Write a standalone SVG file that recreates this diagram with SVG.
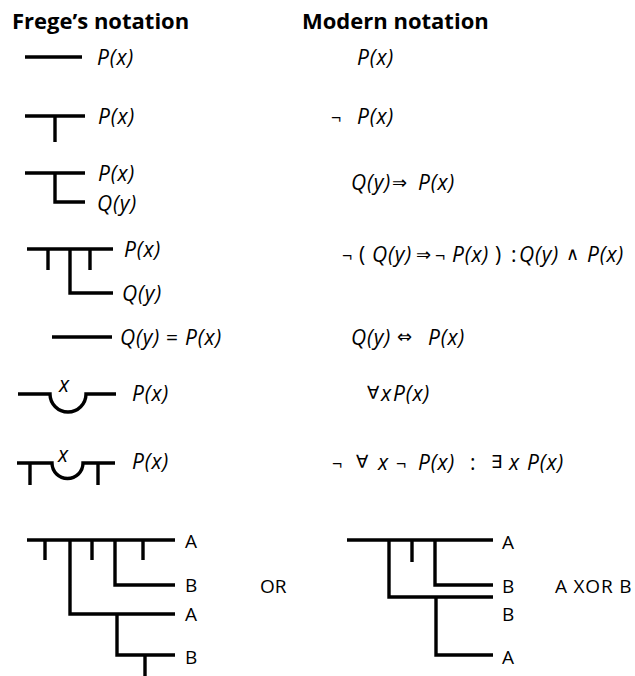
<svg xmlns="http://www.w3.org/2000/svg" width="635" height="676" viewBox="0 0 635 676">
<style>
.ln{stroke:#000;stroke-width:3.4;fill:none;stroke-linecap:butt}
.h{font-family:"Open Sans",Lato,"DejaVu Sans",sans-serif;font-weight:bold;font-size:22px;fill:#000}
.t{font-family:"Open Sans",Lato,"DejaVu Sans",sans-serif;font-size:21px;letter-spacing:0.8px;fill:#000}
.s{font-family:"Open Sans","DejaVu Sans",sans-serif;font-size:18px;fill:#000}
.l{font-family:"Open Sans",Lato,"DejaVu Sans",sans-serif;font-size:19px;fill:#000}
.i{font-style:italic}
</style>
<rect width="635" height="676" fill="#fff"/>
<g id="headers">
<text class="h" x="12" y="29">Frege’s notation</text>
<text class="h" x="302" y="29">Modern notation</text>
</g>
<g id="connectors">
<path class="ln" d="M25 57H82"/>
<path class="ln" d="M25 116H85M55 116V142"/>
<path class="ln" d="M25 173H85M55 173V202H85"/>
<path class="ln" d="M27 249H113M48 249V270M90 249V270M70 249V293H113"/>
<path class="ln" d="M52 337H112"/>
<path class="ln" d="M18 394H50A18 18 0 0 0 86 394H116"/>
<path class="ln" d="M17 463H52A15.5 15.5 0 0 0 83 463H115M30 463V485M98 463V485"/>
<path class="ln" d="M27 540H175M45 540V560M92 540V560M143 540V560M70 540V614H175M115 540V585H175M117 614V655H175M145 655V676"/>
<path class="ln" d="M347 540H493M412 540V562M389 540V597H493M435 540V585H493M436 597V655H493"/>
</g>
<g id="frege-labels">
<text class="t i" x="97" y="65">P(x)</text>
<text class="t i" x="98" y="124">P(x)</text>
<text class="t i" x="98" y="181">P(x)</text>
<text class="t i" x="97" y="211">Q(y)</text>
<text class="t i" x="124" y="257">P(x)</text>
<text class="t i" x="122" y="301">Q(y)</text>
<text class="t i" x="120" y="345">Q(y)</text>
<text class="t" x="166" y="345">=</text>
<text class="t i" x="185" y="345">P(x)</text>
<text class="t i" x="59" y="392">x</text>
<text class="t i" x="132" y="401">P(x)</text>
<text class="t i" x="58" y="462">x</text>
<text class="t i" x="132" y="469">P(x)</text>
<text class="l" x="185" y="548">A</text>
<text class="l" x="185" y="592">B</text>
<text class="l" x="185" y="621">A</text>
<text class="l" x="185" y="664">B</text>
<text class="l" x="260" y="593">OR</text>
</g>
<g id="modern-labels">
<text class="t i" x="357" y="65">P(x)</text>
<text class="s" x="331" y="124">¬</text>
<text class="t i" x="357" y="124">P(x)</text>
<text class="t i" x="351" y="190">Q(y)</text>
<text class="s" x="392" y="189">⇒</text>
<text class="t i" x="418" y="190">P(x)</text>
<text class="s" x="342" y="262">¬</text>
<text class="t" x="359" y="262">(</text>
<text class="t i" x="372" y="262">Q(y)</text>
<text class="s" x="416" y="261">⇒</text>
<text class="s" x="435" y="262">¬</text>
<text class="t i" x="452" y="262">P(x)</text>
<text class="t" x="495" y="262">)</text>
<text class="t" x="511" y="262">:</text>
<text class="t i" x="519" y="262">Q(y)</text>
<text class="s" x="566" y="260">∧</text>
<text class="t i" x="587" y="262">P(x)</text>
<text class="t i" x="351" y="345">Q(y)</text>
<text class="s" x="397" y="343">⇔</text>
<text class="t i" x="428" y="345">P(x)</text>
<text class="s" x="367" y="399">∀</text>
<text class="t i" x="381" y="401">x</text>
<text class="t i" x="393" y="401">P(x)</text>
<text class="s" x="332" y="470">¬</text>
<text class="s" x="356" y="468">∀</text>
<text class="t i" x="378" y="470">x</text>
<text class="s" x="396" y="470">¬</text>
<text class="t i" x="418" y="470">P(x)</text>
<text class="t" x="470" y="470">:</text>
<text class="s" x="491" y="468">∃</text>
<text class="t i" x="509" y="470">x</text>
<text class="t i" x="527" y="470">P(x)</text>
<text class="l" x="502" y="549">A</text>
<text class="l" x="502" y="593">B</text>
<text class="l" x="502" y="621">B</text>
<text class="l" x="502" y="664">A</text>
<text class="l" x="555" y="593" letter-spacing="0.8">A XOR B</text>
</g>
</svg>
